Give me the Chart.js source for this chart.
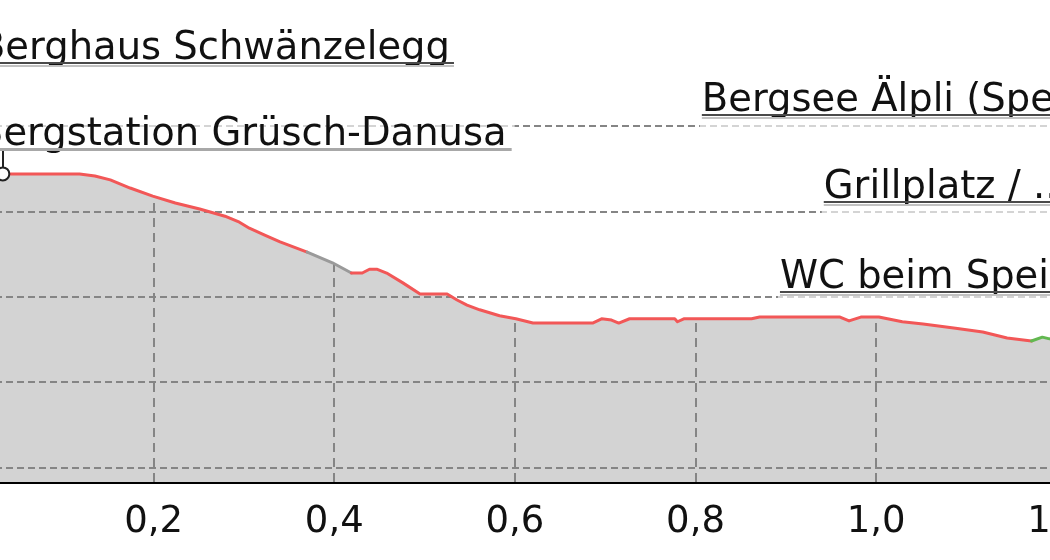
<!DOCTYPE html>
<html>
<head>
<meta charset="utf-8">
<script src="https://cdn.jsdelivr.net/npm/chart.js@4/dist/chart.umd.min.js"></script>
<style>
  html, body { margin: 0; padding: 0; background: #fff; overflow: hidden; width: 1050px; height: 560px; }
  #wrap { position: absolute; left: -60px; top: 0; width: 1180px; height: 570px; }
</style>
</head>
<body>
<div id="wrap"><canvas id="profile"></canvas></div>
<script>
(function () {
  "use strict";

  // profile: distance (km) and elevation (m)
  var distance = [0, 0.033, 0.118, 0.135, 0.152, 0.174, 0.199, 0.224, 0.251, 0.279,
    0.295, 0.306, 0.323, 0.340, 0.370, 0.398, 0.419, 0.431, 0.439, 0.447,
    0.458, 0.476, 0.495, 0.525, 0.536, 0.547, 0.561, 0.583, 0.601, 0.620,
    0.686, 0.696, 0.707, 0.715, 0.727, 0.777, 0.780, 0.787, 0.862, 0.871,
    0.960, 0.970, 0.983, 1.003, 1.029, 1.052, 1.088, 1.118, 1.145, 1.172,
    1.184, 1.192, 1.215, 1.240, 1.270];
  var elevation = [1788.8, 1788.8, 1788.8, 1788.3, 1787.4, 1785.5, 1783.6, 1782.0, 1780.6, 1778.9,
    1777.5, 1776.1, 1774.5, 1772.9, 1770.5, 1768.0, 1765.6, 1765.6, 1766.5, 1766.5,
    1765.6, 1763.3, 1760.7, 1760.7, 1759.3, 1758.1, 1757.0, 1755.6, 1754.9, 1753.9,
    1753.9, 1754.9, 1754.6, 1753.9, 1754.9, 1754.9, 1754.2, 1754.9, 1754.9, 1755.3,
    1755.3, 1754.4, 1755.3, 1755.3, 1754.2, 1753.7, 1752.7, 1751.8, 1750.4, 1749.7,
    1750.6, 1750.2, 1750.0, 1749.8, 1749.6];

  // surface type changes along the way
  var surfaceFrom = [0, 0.370, 0.419, 1.172];
  var surfaceType = ["path", "unknown", "path", "road"];

  var gridElevations = [1720, 1740, 1760, 1780, 1800];
  var distTicks = [0.2, 0.4, 0.6, 0.8, 1.0, 1.2];
  var distLabels = ["0,2", "0,4", "0,6", "0,8", "1,0", "1,2"];

  // points of interest: label start (km), label level (m)
  var poiNames = ["Berghaus Schwänzelegg", "Bergstation Grüsch-Danusa", "Bergsee Älpli (Speichersee)",
    "Grillplatz / ...", "WC beim Speichersee"];
  var poiLabelDist = [0.0066, 0.0044, 0.807, 0.942, 0.8935];
  var poiLabelElev = [1814.7, 1794.6, 1802.6, 1782.2, 1761.2];

  // marked point on the profile
  var markerName = "Bergstation Grüsch-Danusa";
  var markerDist = 0.033;
  var markerElev = 1788.8;

  var surfaceColors = { path: "#f25757", unknown: "#9a9a9a", road: "#62b850" };
  var FONT = "'DejaVu Sans', Verdana, sans-serif";

  function surfaceAt(km) {
    var t = surfaceType[0];
    for (var i = 0; i < surfaceFrom.length; i++) {
      if (km >= surfaceFrom[i] - 1e-9) t = surfaceType[i];
    }
    return t;
  }

  var points = distance.map(function (d, i) { return { x: d, y: elevation[i] }; });

  // grid goes on top of the gray area, under the coloured line
  var profileGrid = {
    id: "profileGrid",
    afterDatasetDraw: function (chart, args) {
      if (args.index !== 0) return;
      var ctx = chart.ctx;
      var area = chart.chartArea;
      var xs = chart.scales.x;
      var ys = chart.scales.y;
      var pts = args.meta.data;
      ctx.save();
      ctx.strokeStyle = "#858585";
      ctx.lineWidth = 2;
      ctx.setLineDash([7, 4]);
      gridElevations.forEach(function (v) {
        var y = Math.round(ys.getPixelForValue(v));
        ctx.beginPath();
        ctx.moveTo(area.left, y);
        ctx.lineTo(area.right, y);
        ctx.stroke();
      });
      // vertical lines only below the profile
      ctx.beginPath();
      ctx.moveTo(pts[0].x, area.bottom);
      pts.forEach(function (p) { ctx.lineTo(p.x, p.y); });
      ctx.lineTo(pts[pts.length - 1].x, area.bottom);
      ctx.closePath();
      ctx.clip();
      ctx.setLineDash([9, 6]);
      distTicks.forEach(function (v) {
        var x = Math.round(xs.getPixelForValue(v));
        ctx.beginPath();
        ctx.moveTo(x, area.bottom);
        ctx.lineTo(x, area.top);
        ctx.stroke();
      });
      ctx.restore();
    }
  };

  var poiLabels = {
    id: "poiLabels",
    afterDatasetsDraw: function (chart) {
      var ctx = chart.ctx;
      var xs = chart.scales.x;
      var ys = chart.scales.y;
      ctx.save();
      ctx.font = "38.5px " + FONT;
      ctx.textBaseline = "alphabetic";
      ctx.textAlign = "left";
      for (var i = 0; i < poiNames.length; i++) {
        var x = xs.getPixelForValue(poiLabelDist[i]);
        var y = Math.round(ys.getPixelForValue(poiLabelElev[i]));
        var w = ctx.measureText(poiNames[i]).width;
        var marked = poiNames[i] === markerName;
        ctx.fillStyle = "rgba(255,255,255,0.65)";
        ctx.fillRect(x - 2, y - 40, w + 10, 54);
        ctx.fillStyle = "#111";
        ctx.fillText(poiNames[i], x, y - 4);
        ctx.setLineDash([]);
        if (marked) {
          ctx.strokeStyle = "#a8a8a8";
          ctx.lineWidth = 3;
          ctx.beginPath();
          ctx.moveTo(x, y + 0.5);
          ctx.lineTo(x + w + 5, y + 0.5);
          ctx.stroke();
          var mx = Math.round(xs.getPixelForValue(markerDist));
          var my = ys.getPixelForValue(markerElev);
          ctx.strokeStyle = "#222";
          ctx.lineWidth = 2;
          ctx.beginPath();
          ctx.moveTo(mx, y + 2);
          ctx.lineTo(mx, my - 7);
          ctx.stroke();
        } else {
          ctx.strokeStyle = "#c2c2c2";
          ctx.lineWidth = 2;
          ctx.beginPath();
          ctx.moveTo(x, y + 3);
          ctx.lineTo(x + w + 4, y + 3);
          ctx.stroke();
          ctx.strokeStyle = "#4a4a4a";
          ctx.beginPath();
          ctx.moveTo(x, y);
          ctx.lineTo(x + w + 4, y);
          ctx.stroke();
        }
      }
      ctx.restore();
    }
  };

  var ctx = document.getElementById("profile");
  var chart = new Chart(ctx, {
    type: "line",
    data: {
      datasets: [
        {
          // gray area
          data: points,
          order: 2,
          borderWidth: 0,
          borderColor: "rgba(0,0,0,0)",
          backgroundColor: "#d3d3d3",
          fill: "start",
          tension: 0,
          pointRadius: 0
        },
        {
          // coloured line by surface
          data: points,
          order: 1,
          borderWidth: 3,
          borderColor: surfaceColors.path,
          fill: false,
          tension: 0,
          pointRadius: 0,
          borderJoinStyle: "round",
          borderCapStyle: "round",
          segment: {
            borderColor: function (c) { return surfaceColors[surfaceAt(c.p0.parsed.x)]; }
          }
        },
        {
          data: [{ x: markerDist, y: markerElev }],
          order: 0,
          showLine: false,
          pointRadius: 6.5,
          pointBorderWidth: 2,
          pointBackgroundColor: "#fff",
          pointBorderColor: "#222"
        }
      ]
    },
    options: {
      responsive: true,
      maintainAspectRatio: false,
      animation: false,
      events: [],
      layout: { autoPadding: false, padding: { left: 33, right: 0, top: 0, bottom: 7.3 } },
      plugins: { legend: { display: false }, tooltip: { enabled: false } },
      scales: {
        x: {
          type: "linear",
          min: 0,
          max: 1.27,
          z: 1,
          grid: { display: false, drawTicks: false },
          border: { display: true, color: "#000", width: 3 },
          afterBuildTicks: function (scale) {
            scale.ticks = distTicks.map(function (v) { return { value: v }; });
          },
          ticks: {
            autoSkip: false,
            maxRotation: 0,
            padding: 20,
            color: "#111",
            font: { family: FONT, size: 37, lineHeight: 1.1 },
            callback: function (value, index) { return distLabels[index]; }
          }
        },
        y: {
          type: "linear",
          display: false,
          min: 1716.7,
          max: 1829.5
        }
      }
    },
    plugins: [profileGrid, poiLabels]
  });
})();
</script>
</body>
</html>
